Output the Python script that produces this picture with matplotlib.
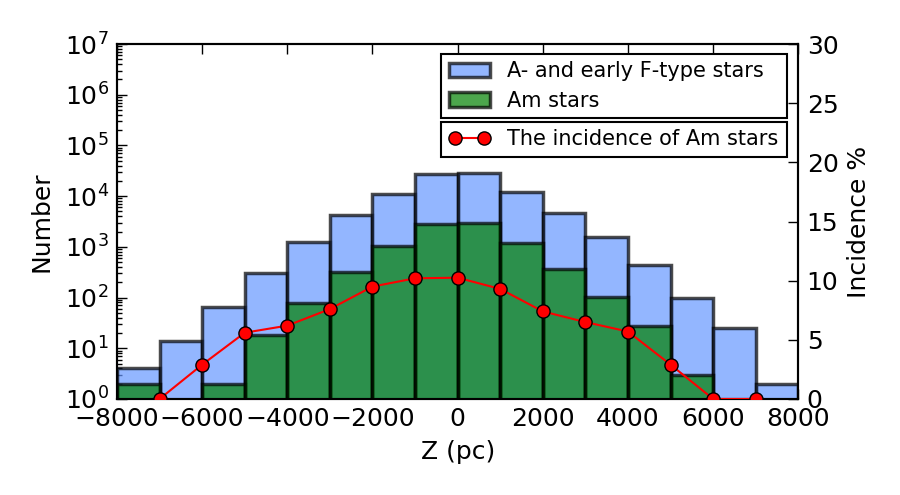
import numpy as np
import matplotlib
matplotlib.use('Agg')
import matplotlib.pyplot as plt
from matplotlib.ticker import LogLocator, NullFormatter, FixedLocator

# ---- data ----
bin_edges = [-8000, -7000, -6000, -5000, -4000, -3000, -2000, -1000, 0,
             1000, 2000, 3000, 4000, 5000, 6000, 7000, 8000]
all_stars = [4, 14, 66, 310, 1260, 4200, 11000, 27500, 28300,
             12300, 4700, 1590, 440, 97, 25, 2]
am_stars = [2, 0, 2, 18, 79, 325, 1040, 2830, 2930,
            1170, 360, 104, 27, 3, 0, 0]
inc_z = [-7000, -6000, -5000, -4000, -3000, -2000, -1000, 0,
         1000, 2000, 3000, 4000, 5000, 6000, 7000]
incidence = [0, 2.9, 5.6, 6.2, 7.6, 9.5, 10.2, 10.25,
             9.3, 7.4, 6.5, 5.7, 2.9, 0, 0]
x_ticks = [-8000, -6000, -4000, -2000, 0, 2000, 4000, 6000, 8000]
inc_ticks = [0, 5, 10, 15, 20, 25, 30]

label_all = 'A- and early F-type stars'
label_am = 'Am stars'
label_inc = 'The incidence of Am stars'

plt.rcParams['font.family'] = ['DejaVu Sans']
plt.rcParams['mathtext.default'] = 'regular'

fig = plt.figure(figsize=(9, 4.95), dpi=100, facecolor='white')
ax = fig.add_axes([0.13, 0.194, 0.757, 0.717])

edges = np.array(bin_edges, dtype=float)
left = edges[:-1]
width = np.diff(edges)
a_all = np.array(all_stars, dtype=float)
a_am = np.array(am_stars, dtype=float)

m1 = a_all > 0
b1 = ax.bar(left[m1], a_all[m1], width=width[m1], align='edge',
            color='#6697ff', edgecolor='black', alpha=0.7,
            linewidth=2.5, label=label_all, zorder=2)
m2 = a_am > 0
b2 = ax.bar(left[m2], a_am[m2], width=width[m2], align='edge',
            color=(0, 0.5, 0), edgecolor='black', alpha=0.7,
            linewidth=2.5, label=label_am, zorder=3)

ax.set_yscale('log')
ax.set_ylim(1, 1e7)
ax.set_xlim(-8000, 8000)
ax.set_xticks(x_ticks)
ax.yaxis.set_major_locator(LogLocator(base=10, numticks=10))
ax.yaxis.set_minor_locator(LogLocator(base=10, subs=np.arange(2, 10), numticks=20))
ax.yaxis.set_minor_formatter(NullFormatter())
ax.set_xlabel('Z (pc)', fontsize=18, labelpad=6)
ax.set_ylabel('Number', fontsize=18, labelpad=8)

ax2 = ax.twinx()
ax2.plot(inc_z, incidence, '-o', color='red', markerfacecolor='red',
         markeredgecolor='black', markeredgewidth=1.0, markersize=9.5,
         linewidth=1.5, label=label_inc, zorder=5)
ax2.set_ylim(0, 30)
ax2.yaxis.set_major_locator(FixedLocator(inc_ticks))
ax2.set_ylabel('Incidence %', fontsize=18, labelpad=6)

for a in (ax, ax2):
    for s in a.spines.values():
        s.set_linewidth(1.5)
ax.tick_params(axis='both', which='major', direction='in', length=7,
               width=1.0, labelsize=18, top=True, pad=6)
ax.tick_params(axis='y', which='minor', direction='in', length=3.5,
               width=1.0, left=True, right=False)
ax.tick_params(axis='x', which='minor', bottom=False, top=False)
ax2.tick_params(axis='y', which='major', direction='in', length=7,
                width=1.0, labelsize=18, pad=6)

leg1 = ax2.legend(handles=[b1, b2], labels=[label_all, label_am],
                  loc='upper left', bbox_to_anchor=(0.476, 0.972, 0.508, 0.0),
                  mode='expand', fontsize=15, fancybox=False, framealpha=1,
                  edgecolor='black', borderaxespad=0.0, handlelength=2.0,
                  handletextpad=0.8, labelspacing=0.45, borderpad=0.35)
leg1.get_frame().set_linewidth(1.5)
ax2.add_artist(leg1)
leg2 = ax2.legend(loc='upper left', bbox_to_anchor=(0.476, 0.780, 0.508, 0.0),
                  mode='expand', fontsize=15, fancybox=False, framealpha=1,
                  edgecolor='black', borderaxespad=0.0, numpoints=2,
                  handlelength=2.0, handletextpad=0.8, borderpad=0.35)
leg2.get_frame().set_linewidth(1.5)

fig.savefig('out.png', dpi=100, facecolor='white')
